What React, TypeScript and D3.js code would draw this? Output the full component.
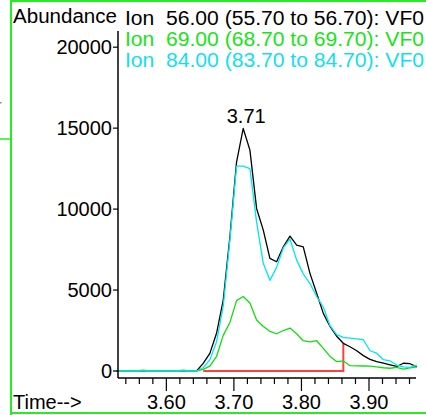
import React from "react";
import * as d3 from "d3";

const times = [
  3.5261, 3.536, 3.5459, 3.5557, 3.5656, 3.5755, 3.5854, 3.5953, 3.6051, 3.615,
  3.6249, 3.6348, 3.6447, 3.6545, 3.6644, 3.6743, 3.6842, 3.6941, 3.7039, 3.7138,
  3.7237, 3.7336, 3.7435, 3.7533, 3.7632, 3.7731, 3.783, 3.7929, 3.8027, 3.8126,
  3.8225, 3.8324, 3.8423, 3.8521, 3.862, 3.8719, 3.8818, 3.8917, 3.9015, 3.9114,
  3.9213, 3.9312, 3.9411, 3.9509, 3.9608, 3.9707,
];
const ion56 = [
  0, 0, 0, 0, 0, 0, 0, 0, 0, 0, 0, 0,
  0, 475, 1090, 2330, 4380, 8300, 12900, 14980, 13640, 10040,
  8700, 6960, 6750, 7670, 8330, 7780, 7670, 6030, 4800, 3560,
  2750, 2150, 1710, 1500, 1250, 950, 720, 580, 480, 380,
  280, 480, 450, 250,
];
const ion69 = [
  0, 0, 0, 0, 60, 0, 0, 0, 0, 0, 60, 0,
  0, 100, 300, 900, 2200, 3000, 4350, 4600, 4200, 3150,
  2750, 2450, 2300, 2500, 2650, 2300, 1870, 1800, 1870, 1400,
  900, 580, 620, 330, 320, 310, 300, 250, 200, 170,
  220, 110, 200, 260,
];
const ion84 = [
  0, 0, 0, 0, 0, 0, 0, 0, 0, 0, 0, 0,
  0, 200, 700, 1800, 4000, 8100, 12650, 12650, 12500, 9200,
  6650, 5600, 6400, 7600, 8150, 6850, 6000, 5400, 4600, 3950,
  2800, 2250, 2080, 2030, 1980, 1930, 1250, 1100, 700, 620,
  370, 250, 230, 380,
];
const legendLabels = [
  "Ion  56.00 (55.70 to 56.70): VF0",
  "Ion  69.00 (68.70 to 69.70): VF0",
  "Ion  84.00 (83.70 to 84.70): VF0",
];
const yTicks = [0, 5000, 10000, 15000, 20000];
const xTicks = [3.6, 3.7, 3.8, 3.9];
const xMinorTicks = [3.54, 3.56, 3.58, 3.62, 3.64, 3.66, 3.68, 3.72, 3.74, 3.76, 3.78, 3.82, 3.84, 3.86, 3.88, 3.92, 3.94, 3.96];
const peakLabel = "3.71";
const peakIndex = 19;
const integStart = 13;
const integEnd = 34;

const FONT = "'Liberation Sans', Arial, sans-serif";
const FS = 20;

export default function App() {
  const x = d3.scaleLinear().domain([3.5284, 3.9696]).range([118, 416]);
  const y = d3.scaleLinear().domain([0, 21000]).range([371, 31]);
  const axisY = 378;

  const mk = (vals: number[]) =>
    d3
      .line<number>()
      .x((_, i) => x(times[i]))
      .y((v) => y(v))(vals) || "";

  const series = [
    { vals: ion56, color: "#000000", text: "#000000" },
    { vals: ion69, color: "#11dd11", text: "#18e418" },
    { vals: ion84, color: "#00e6f2", text: "#11dff0" },
  ];

  const fmt = d3.format(".2f");

  return (
    <svg
      width={426}
      height={415}
      style={{ position: "absolute", left: 0, top: 0, background: "#fff" }}
      fontFamily={FONT}
    >
      <rect x={0} y={0} width={426} height={415} fill="#fff" />
      {/* frame remnants */}
      <line x1={11} y1={0} x2={11} y2={415} stroke="#22ee22" strokeWidth={2} />
      <line x1={11} y1={1} x2={426} y2={1} stroke="#22ee22" strokeWidth={2} />
      <line x1={11} y1={413} x2={426} y2={413} stroke="#22ee22" strokeWidth={2} />
      <line x1={0} y1={139} x2={11} y2={139} stroke="#22ee22" strokeWidth={1.5} />
      <rect x={0} y={102} width={1.5} height={1.5} fill="#888" />

      {/* integration marker */}
      <path
        d={`M${x(times[integStart])},${y(0)}H${x(times[integEnd])}V${y(ion56[integEnd])}`}
        fill="none"
        stroke="#ff4040"
        strokeWidth={2}
      />

      {/* series */}
      {series.map((s, i) => (
        <path key={i} d={mk(s.vals)} fill="none" stroke={s.color} strokeWidth={1.3} strokeLinejoin="round" />
      ))}

      {/* y axis */}
      <line x1={118} y1={y(21000)} x2={118} y2={axisY} stroke="#000" strokeWidth={1.5} />
      {yTicks.map((t) => (
        <g key={t}>
          <line x1={113} x2={118} y1={y(t)} y2={y(t)} stroke="#000" strokeWidth={1.2} />
          <text x={112} y={y(t)} dy="0.35em" textAnchor="end" fontSize={FS} fill="#000">
            {t}
          </text>
        </g>
      ))}

      {/* x axis */}
      <line x1={118} y1={axisY} x2={416} y2={axisY} stroke="#000" strokeWidth={1.5} />
      {xMinorTicks.map((t) => (
        <line key={t} x1={x(t)} x2={x(t)} y1={axisY} y2={axisY + 6} stroke="#000" strokeWidth={1.2} />
      ))}
      {xTicks.map((t) => (
        <g key={t}>
          <line x1={x(t)} x2={x(t)} y1={axisY} y2={axisY + 13} stroke="#000" strokeWidth={1.2} />
          <text x={x(t)} y={409} textAnchor="middle" fontSize={FS} fill="#000">
            {fmt(t)}
          </text>
        </g>
      ))}
      <text x={13} y={409} fontSize={FS} fill="#000">Time--&gt;</text>

      {/* titles */}
      <text x={13} y={22.5} fontSize={FS} fill="#000" textLength={104} lengthAdjust="spacingAndGlyphs">
        Abundance
      </text>
      {legendLabels.map((l, i) => (
        <text
          key={i}
          x={125}
          y={24.5 + i * 21}
          fontSize={FS}
          fill={series[i].text}
          style={{ whiteSpace: "pre" }}
          textLength={299}
          lengthAdjust="spacingAndGlyphs"
        >
          {l}
        </text>
      ))}

      {/* peak label */}
      <text x={x(times[peakIndex]) + 3} y={y(ion56[peakIndex]) - 5} textAnchor="middle" fontSize={FS} fill="#000">
        {peakLabel}
      </text>
    </svg>
  );
}
